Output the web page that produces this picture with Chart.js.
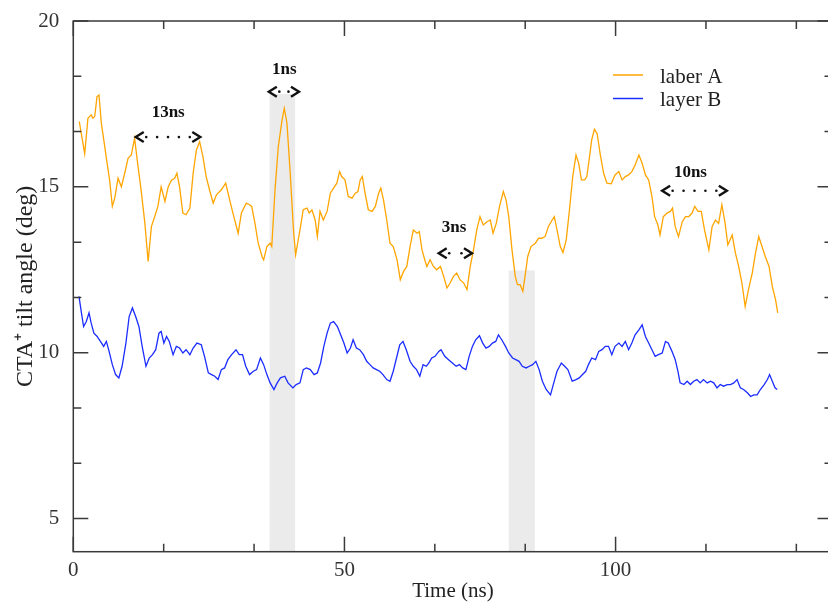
<!DOCTYPE html>
<html><head><meta charset="utf-8">
<script src="https://cdn.jsdelivr.net/npm/chart.js@4/dist/chart.umd.min.js"></script>
<style>
html,body{margin:0;padding:0;background:#fff;overflow:hidden;width:828px;height:603px}
#wrap{width:828px;height:603px;overflow:hidden;position:relative}
canvas{position:absolute;left:0;top:0}
</style></head>
<body><div id="wrap"><canvas id="c" width="834" height="603"></canvas></div>
<script>
// ---- data (time in ns, tilt angle in deg) ----
const timeA = [1.1,2.1,2.7,3.3,3.6,3.95,4.37,4.74,5.17,5.8,6.1,6.7,7.2,7.64,8.25,8.86,9.48,10.1,10.7,11.3,11.9,12.5,13.2,13.8,14.4,15.0,15.6,16.2,16.9,17.5,18.1,18.7,19.1,19.6,20.2,20.8,21.5,22.1,22.7,23.3,23.9,24.5,25.2,25.8,26.4,27.3,28.1,28.9,29.6,30.4,31.0,31.9,32.5,32.9,33.5,34.1,34.8,35.1,35.7,36.3,36.6,37.2,37.8,38.5,38.9,39.4,40.0,40.6,41.0,41.8,42.4,43.1,43.5,44.0,44.6,45.0,45.5,46.1,46.8,47.4,48.0,48.6,49.1,49.5,50.1,50.7,51.4,52.0,52.5,52.9,53.3,53.8,54.4,55.1,55.7,56.3,56.7,57.2,57.8,58.4,59.0,59.7,60.3,60.9,61.5,62.1,62.7,63.4,63.8,64.3,64.9,65.2,65.8,66.4,67.0,67.7,68.3,68.9,69.5,70.1,70.7,71.3,72.0,72.6,73.2,73.8,74.4,75.0,75.6,76.3,76.9,77.4,78.0,78.6,79.3,79.8,80.3,80.9,81.5,81.9,82.4,82.9,83.3,83.8,84.4,85.2,85.8,86.4,87.0,87.6,88.3,88.7,89.2,89.8,90.3,90.9,91.5,92.1,92.7,93.2,93.7,94.3,94.7,95.2,95.6,96.1,96.6,97.2,97.8,98.4,99.2,99.9,100.6,101.2,101.8,102.4,103.0,103.6,104.3,104.9,105.5,106.1,106.7,107.2,107.8,108.2,108.8,109.5,110.1,110.5,111.0,111.6,112.3,112.9,113.5,114.1,114.6,115.2,115.8,116.4,117.2,117.8,118.4,119.0,119.6,120.2,120.7,121.5,122.1,122.7,123.3,123.9,124.5,125.2,125.8,126.4,127.0,127.6,128.3,128.9,129.5,129.9];
const angleA = [16.97,16.0,17.07,17.17,17.07,17.12,17.72,17.77,16.92,16.21,15.86,15.2,14.41,14.66,15.26,15.0,15.41,15.86,15.96,16.47,15.66,14.91,13.9,12.75,13.8,14.1,14.41,15.0,14.56,15.0,15.2,15.26,15.41,15.0,14.21,14.16,14.36,15.41,16.11,16.36,15.91,15.31,14.86,14.51,14.76,14.91,15.11,14.56,14.1,13.6,14.21,14.51,14.46,14.41,13.9,13.3,12.9,12.8,13.2,13.3,13.2,14.91,16.21,17.02,17.37,16.92,15.41,13.7,12.95,13.7,14.31,14.36,14.21,14.31,14.0,13.5,14.26,14.0,14.26,14.81,14.96,15.11,15.46,15.31,15.21,14.71,14.66,14.81,14.86,15.21,15.31,14.81,14.31,14.26,14.41,14.81,14.96,14.61,14.0,13.3,13.2,12.8,12.2,12.45,12.6,13.2,13.7,13.6,13.65,13.1,12.75,12.6,12.8,12.6,12.5,12.6,12.3,11.95,12.1,12.3,12.4,12.2,12.1,11.9,12.6,13.1,13.7,14.1,13.85,13.95,14.0,13.6,13.9,14.41,14.86,14.61,14.1,13.1,12.3,12.05,12.05,11.85,12.3,12.9,13.2,13.3,13.45,13.45,13.5,13.8,14.0,14.1,13.7,13.2,13.02,13.4,14.31,15.31,15.96,15.71,15.21,15.21,15.31,15.91,16.42,16.74,16.6,15.95,15.41,15.11,15.09,15.36,15.46,15.21,15.31,15.36,15.46,15.66,15.96,15.71,15.36,15.21,14.71,14.1,13.85,13.55,14.1,14.21,14.26,14.36,13.8,13.5,13.95,14.1,14.1,14.21,14.41,14.26,14.26,13.7,13.1,13.8,14.0,13.9,14.46,13.9,13.25,13.55,13.0,12.6,12.1,11.39,11.9,12.4,13.0,13.5,13.2,12.9,12.6,12.0,11.6,11.2];
const timeB = [1.05,1.5,1.9,2.4,2.9,3.3,3.8,4.4,5.0,5.6,6.1,6.6,7.2,7.8,8.4,9.0,9.7,10.3,10.9,11.5,12.1,12.7,13.4,14.0,14.6,15.2,15.8,16.2,16.7,17.2,17.7,18.4,19.0,19.6,20.2,20.8,21.5,22.1,22.8,23.6,24.2,24.9,25.5,26.1,26.7,27.3,27.9,28.5,29.2,30.0,30.6,31.2,31.8,32.5,33.2,33.8,34.5,35.1,35.7,36.3,37.0,37.6,38.2,39.0,39.6,40.5,41.1,41.8,42.4,43.0,43.7,44.4,45.0,45.6,46.2,46.8,47.4,48.0,48.7,49.3,49.9,50.5,51.1,51.6,52.2,52.8,53.5,54.1,54.7,55.3,55.9,56.5,57.1,57.8,58.4,59.0,59.6,60.2,60.8,61.4,62.1,62.7,63.3,63.9,64.5,65.1,65.6,66.1,66.7,67.4,67.8,68.5,69.2,69.9,70.6,71.2,71.8,72.4,73.0,73.6,74.2,74.9,75.5,76.1,76.7,77.3,77.9,78.4,79.0,79.7,80.3,81.0,81.6,82.2,82.8,83.5,84.1,84.7,85.3,85.9,86.5,87.2,88.0,88.6,89.2,90.0,90.6,91.2,92.0,92.7,93.3,93.9,94.5,95.0,95.6,96.3,96.9,97.5,98.1,98.7,99.3,99.9,100.6,101.2,101.8,102.4,103.0,103.6,104.3,104.9,105.5,106.1,106.7,107.3,107.9,108.6,109.2,109.7,110.4,111.0,111.5,111.9,112.6,113.2,113.8,114.4,115.0,115.6,116.2,116.9,117.5,118.1,118.7,119.3,119.9,120.6,121.2,121.8,122.4,123.0,123.6,124.3,124.9,125.5,126.1,126.7,127.4,128.0,128.4,128.9,129.4,129.8];
const angleB = [11.7,11.2,10.79,10.94,11.2,10.89,10.59,10.49,10.34,10.19,10.34,10.04,9.64,9.34,9.24,9.59,10.29,11.09,11.35,11.09,10.79,10.19,9.59,9.84,9.94,10.09,10.59,10.64,10.29,10.49,10.34,9.94,10.19,10.14,9.99,10.09,9.94,10.14,10.29,10.24,9.89,9.39,9.34,9.29,9.19,9.49,9.54,9.79,9.94,10.09,9.94,9.94,9.59,9.34,9.44,9.49,9.84,9.64,9.34,9.09,8.89,9.09,9.24,9.29,9.09,8.94,9.04,9.09,9.49,9.54,9.49,9.34,9.39,9.69,10.19,10.59,10.89,10.94,10.79,10.54,10.29,9.99,10.14,10.39,10.14,10.09,9.94,9.74,9.64,9.54,9.49,9.44,9.34,9.19,9.14,9.44,9.84,10.24,10.34,10.09,9.74,9.59,9.49,9.29,9.64,9.59,9.7,9.84,9.89,10.04,10.09,9.89,9.79,9.69,9.59,9.64,9.54,9.49,9.89,10.19,10.39,10.51,10.29,10.14,10.19,10.29,10.34,10.54,10.39,10.19,9.99,9.84,9.79,9.74,9.59,9.54,9.59,9.64,9.74,9.49,9.14,8.89,8.73,9.09,9.44,9.69,9.59,9.49,9.14,9.19,9.24,9.34,9.44,9.64,9.84,9.79,10.04,10.09,10.19,10.19,9.94,10.19,10.29,10.19,10.34,10.09,10.29,10.54,10.69,10.84,10.49,10.29,10.09,9.89,9.94,9.99,10.34,10.29,10.04,9.79,9.44,9.09,9.04,9.14,9.04,9.14,9.19,9.09,9.19,9.09,9.14,9.09,8.94,9.04,8.99,9.04,9.04,9.09,9.19,8.94,8.89,8.79,8.68,8.73,8.73,8.89,9.04,9.19,9.34,9.14,8.94,8.89];
const seriesLabels = ['laber A', 'layer B'];
const xTicks = [0, 50, 100];
const yTicks = [5, 10, 15, 20];
// shaded windows (time range, upper angle)
const bandStart = [36.2, 80.3];
const bandEnd = [40.9, 85.1];
const bandTop = [17.8, 12.48];
// interval annotations
const spanText = ['13ns', '1ns', '3ns', '10ns'];
const spanStart = [11.33, 35.87, 67.2, 108.4];
const spanEnd = [23.6, 41.8, 73.7, 120.7];
const spanY = [16.5, 17.87, 13.0, 14.88];
const spanLabelX = [17.5, 38.9, 70.2, 113.8];
const spanLabelY = [17.12, 18.4, 13.65, 15.31];

const SERIF = '"Liberation Serif", "Times New Roman", serif';
const FRAME = '#3a3a3a';

const decor = {
  id: 'decor',
  beforeDatasetsDraw(chart) {
    const {ctx, scales: {x, y}} = chart;
    ctx.save();
    ctx.fillStyle = '#ebebeb';
    for (let i = 0; i < bandStart.length; i++) {
      const x0 = x.getPixelForValue(bandStart[i]), x1 = x.getPixelForValue(bandEnd[i]);
      const yt = y.getPixelForValue(bandTop[i]), yb = y.getPixelForValue(y.min);
      ctx.fillRect(x0, yt, x1 - x0, yb - yt);
    }
    ctx.restore();
  },
  afterDatasetsDraw(chart) {
    const {ctx, chartArea: a, scales: {x, y}} = chart;
    ctx.save();
    // frame
    ctx.strokeStyle = FRAME; ctx.lineWidth = 1.5;
    ctx.strokeRect(a.left, a.top, a.right - a.left, a.bottom - a.top);
    // ticks (inward)
    ctx.beginPath();
    const xStep = 50 / 3;
    for (let k = 0; k * xStep <= x.max + 1e-6; k++) {
      const v = k * xStep, px = x.getPixelForValue(v);
      const len = (k % 3 === 0) ? 15 : 8;
      ctx.moveTo(px, a.bottom); ctx.lineTo(px, a.bottom - len);
      ctx.moveTo(px, a.top); ctx.lineTo(px, a.top + len);
    }
    const yStep = 5 / 3;
    for (let k = Math.ceil(y.min / yStep); k * yStep <= y.max + 1e-6; k++) {
      const v = k * yStep, py = y.getPixelForValue(v);
      const len = (k % 3 === 0) ? 15 : 8;
      ctx.moveTo(a.left, py); ctx.lineTo(a.left + len, py);
      ctx.moveTo(a.right, py); ctx.lineTo(a.right - len, py);
    }
    ctx.stroke();

    // interval annotations
    ctx.strokeStyle = '#111'; ctx.fillStyle = '#111';
    ctx.lineWidth = 2.4; ctx.lineJoin = 'miter';
    for (let i = 0; i < spanText.length; i++) {
      const x0 = x.getPixelForValue(spanStart[i]), x1 = x.getPixelForValue(spanEnd[i]);
      const py = y.getPixelForValue(spanY[i]);
      ctx.beginPath();
      ctx.moveTo(x0 + 9, py - 5); ctx.lineTo(x0 + 1, py); ctx.lineTo(x0 + 9, py + 5);
      ctx.moveTo(x1 - 9, py - 5); ctx.lineTo(x1 - 1, py); ctx.lineTo(x1 - 9, py + 5);
      ctx.stroke();
      const d0 = x0 + 11.5, d1 = x1 - 11.5;
      const n = Math.max(2, Math.round((d1 - d0) / 11) + 1);
      for (let j = 0; j < n; j++) {
        const dx = d0 + (d1 - d0) * j / (n - 1);
        ctx.beginPath(); ctx.arc(dx, py, 1.3, 0, Math.PI * 2); ctx.fill();
      }
      ctx.font = 'bold 17px ' + SERIF;
      ctx.textAlign = 'center'; ctx.textBaseline = 'alphabetic';
      ctx.fillText(spanText[i], x.getPixelForValue(spanLabelX[i]), y.getPixelForValue(spanLabelY[i]));
    }

    // legend
    ctx.font = '21px ' + SERIF;
    ctx.textAlign = 'left'; ctx.textBaseline = 'alphabetic';
    const legY = [75, 98.5];
    chart.data.datasets.forEach((ds, i) => {
      ctx.strokeStyle = ds.borderColor; ctx.lineWidth = 1.5;
      ctx.beginPath(); ctx.moveTo(613, legY[i]); ctx.lineTo(643, legY[i]); ctx.stroke();
      ctx.fillStyle = '#222';
      ctx.fillText(ds.label, 660, legY[i] + 7.5);
    });
    ctx.restore();
  }
};

const toPts = (t, v) => t.map((tt, i) => ({x: tt, y: v[i]}));

new Chart(document.getElementById('c'), {
  type: 'line',
  data: {
    datasets: [
      {label: seriesLabels[0], data: toPts(timeA, angleA), borderColor: '#ffa500', borderWidth: 1.3, pointRadius: 0, tension: 0, fill: false},
      {label: seriesLabels[1], data: toPts(timeB, angleB), borderColor: '#1a2cff', borderWidth: 1.3, pointRadius: 0, tension: 0, fill: false}
    ]
  },
  options: {
    responsive: false,
    animation: false,
    layout: {padding: {top: 21, right: 1.5, left: 0, bottom: 0}},
    plugins: {legend: {display: false}, tooltip: {enabled: false}},
    scales: {
      x: {
        type: 'linear', min: 0, max: 140,
        afterBuildTicks: s => { s.ticks = xTicks.map(v => ({value: v})); },
        afterFit: s => { s.height = 51.3; },
        grid: {display: false}, border: {display: false},
        ticks: {font: {family: SERIF, size: 21}, color: '#333', padding: -2, maxRotation: 0, autoSkip: false},
        title: {display: true, text: 'Time (ns)', font: {family: SERIF, size: 21}, color: '#222', padding: {top: 0, bottom: -1}}
      },
      y: {
        min: 4, max: 20,
        afterBuildTicks: s => { s.ticks = yTicks.map(v => ({value: v})); },
        afterFit: s => { s.width = 73.3; },
        grid: {display: false}, border: {display: false},
        ticks: {font: {family: SERIF, size: 21}, color: '#333', padding: 6, autoSkip: false},
        title: {display: true, text: 'CTA\u207A tilt angle (deg)', font: {family: SERIF, size: 24}, color: '#222', padding: {top: 11, bottom: 0}}
      }
    }
  },
  plugins: [decor]
});
</script>
</body></html>
